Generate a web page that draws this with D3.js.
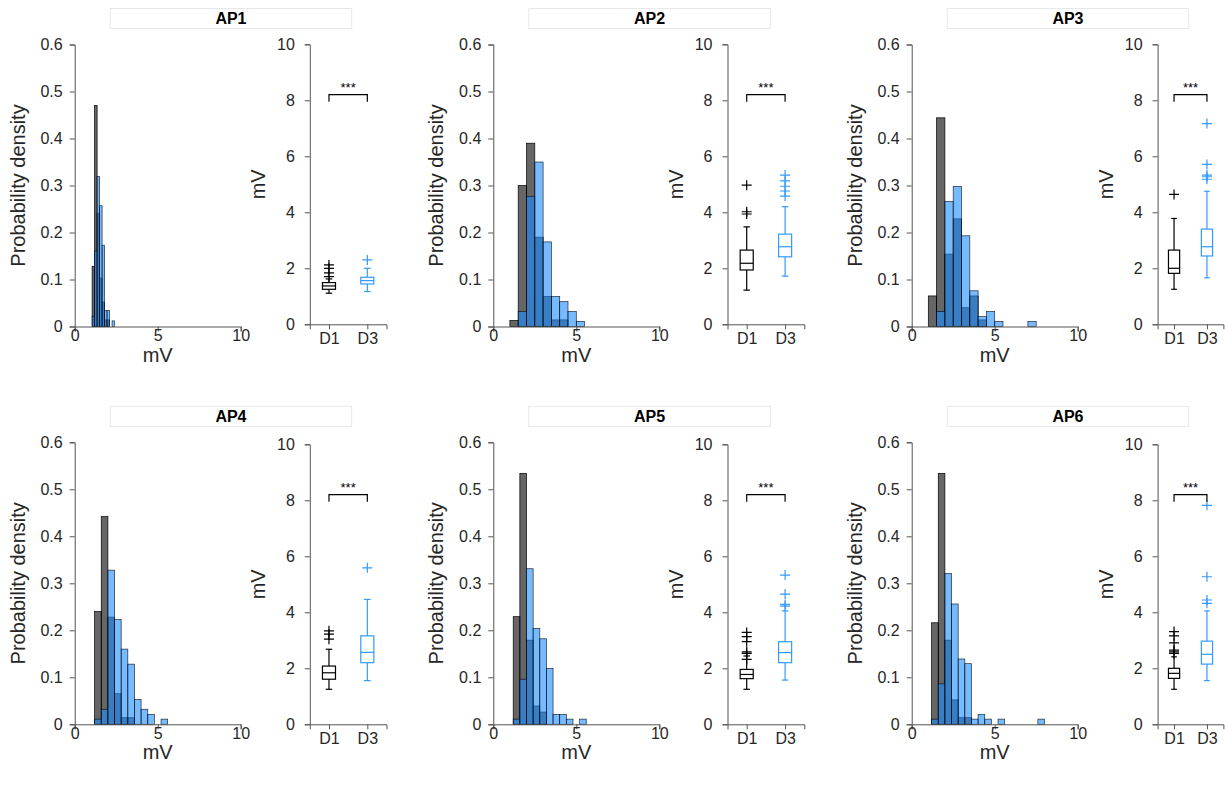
<!DOCTYPE html>
<html>
<head>
<meta charset="utf-8">
<script src="https://cdn.jsdelivr.net/npm/d3@7"></script>
<style>
  body { margin: 0; background: #fff; }
  svg { display: block; font-family: "Liberation Sans", Arial, sans-serif; }
</style>
</head>
<body>
<script>
// ---- data ----
const panels   = ['AP1', 'AP2', 'AP3', 'AP4', 'AP5', 'AP6'];
const groups   = ['D1', 'D3'];
const sigLabel = ['***', '***', '***', '***', '***', '***'];

// histogram bins (mV): first edge and width, per panel
const binStart = [1.05, 1.0, 1.0, 1.2, 1.2, 1.2];
const binWidth = [0.15, 0.5, 0.5, 0.4, 0.4, 0.4];

// bar heights (probability), one per bin starting at binStart
const histD1 = [
  [0.128, 0.47, 0.241, 0.103, 0.052, 0.014, 0.014],
  [0.013, 0.30, 0.39, 0.19, 0.064, 0.014, 0.014],
  [0.065, 0.444, 0.154, 0.229, 0.040, 0.065, 0.014],
  [0.24, 0.442, 0.228, 0.065, 0.014, 0.014],
  [0.229, 0.534, 0.179, 0.039, 0.026],
  [0.216, 0.534, 0.179, 0.052, 0.014, 0.014]
];
const histD3 = [
  [0.021, 0.161, 0.319, 0.257, 0.173, 0.034, 0.034, 0, 0.012],
  [0, 0.032, 0.277, 0.35, 0.18, 0.064, 0.053, 0.032, 0.011],
  [0, 0.032, 0.266, 0.298, 0.193, 0.076, 0.021, 0.032, 0.011, 0, 0, 0, 0.011],
  [0.011, 0.032, 0.328, 0.223, 0.16, 0.128, 0.053, 0.032, 0.021, 0, 0.011],
  [0.011, 0.096, 0.331, 0.204, 0.182, 0.119, 0.021, 0.021, 0.011, 0, 0.011],
  [0.011, 0.086, 0.321, 0.256, 0.139, 0.129, 0.011, 0.021, 0.011, 0, 0.011, 0, 0, 0, 0, 0, 0.011]
];

// box stats: [lower whisker, q1, median, q3, upper whisker]
const boxD1 = [
  [1.11, 1.25, 1.37, 1.49, 1.62],
  [1.22, 1.94, 2.18, 2.65, 3.48],
  [1.25, 1.82, 2.0, 2.65, 3.78],
  [1.25, 1.61, 1.84, 2.08, 2.68],
  [1.25, 1.63, 1.78, 1.96, 2.44],
  [1.25, 1.64, 1.82, 2.0, 2.41]
];
const boxD3 = [
  [1.17, 1.44, 1.56, 1.68, 2.0],
  [1.72, 2.41, 2.77, 3.22, 4.2],
  [1.66, 2.44, 2.77, 3.40, 4.75],
  [1.56, 2.2, 2.57, 3.16, 4.46],
  [1.58, 2.2, 2.56, 2.95, 4.05],
  [1.56, 2.15, 2.5, 2.97, 4.05]
];
const outD1 = [
  [1.70, 1.84, 2.0, 2.12],
  [3.94, 4.02, 4.97],
  [4.64],
  [3.04, 3.22, 3.34],
  [2.32, 2.53, 2.59, 2.95, 3.13, 3.28],
  [2.53, 2.59, 2.65, 2.91, 3.16, 3.31]
];
const outD3 = [
  [2.3],
  [4.58, 4.76, 4.93, 5.12, 5.33],
  [5.18, 5.27, 5.33, 5.71, 7.17],
  [5.59],
  [4.22, 4.28, 4.65, 5.33],
  [4.32, 4.44, 5.27, 7.82]
];

const histTicksX = [0, 5, 10];
const histTicksY = [0, 0.1, 0.2, 0.3, 0.4, 0.5, 0.6];
const boxTicksY  = [0, 2, 4, 6, 8, 10];

// ---- layout ----
const W = 1225, H = 788;
const colHistX = [74.7, 493.3, 911.7];
const colBoxX  = [[309.8, 386.5], [727.5, 804.3], [1157.6, 1223.4]];
const rowHistY = [[326.5, 44.5], [724.3, 442.3]];
const rowBoxY  = [[324.3, 44.3], [724.3, 444.3]];
const histLen  = 166;

const textCol = '#262626';
const axisCol = '#555';
const d1Col = '#000000';
const d3Col = '#1a8cff';
const d3Line = '#3399ff';

const svg = d3.select('body').append('svg')
  .attr('width', W).attr('height', H);

function styleAxis(g) {
  g.select('.domain').attr('stroke', axisCol).attr('stroke-width', 1);
  g.selectAll('.tick line').attr('stroke', axisCol).attr('stroke-width', 1);
  g.selectAll('.tick text').attr('fill', textCol).style('font-size', '16px')
    .style('font-family', '"Liberation Sans", Arial, sans-serif');
}

function drawPanel(p) {
  const col = p % 3, row = Math.floor(p / 3);
  const x0 = colHistX[col];

  // HISTOGRAMA
  const x = d3.scaleLinear().domain([0, 10]).range([x0, x0 + histLen]);
  const y = d3.scaleLinear().domain([0, 0.6]).range(rowHistY[row]);
  const g = svg.append('g');

  const bins = (arr) => arr.map((v, i) => ({
    lo: binStart[p] + i * binWidth[p],
    hi: binStart[p] + (i + 1) * binWidth[p],
    v
  })).filter(d => d.v > 0);

  g.selectAll('rect.d1').data(bins(histD1[p])).enter().append('rect')
    .attr('class', 'd1')
    .attr('x', d => x(d.lo)).attr('width', d => x(d.hi) - x(d.lo))
    .attr('y', d => y(d.v)).attr('height', d => y(0) - y(d.v))
    .attr('fill', d1Col).attr('fill-opacity', 0.6)
    .attr('stroke', '#000').attr('stroke-width', 0.7);

  g.selectAll('rect.d3').data(bins(histD3[p])).enter().append('rect')
    .attr('class', 'd3')
    .attr('x', d => x(d.lo)).attr('width', d => x(d.hi) - x(d.lo))
    .attr('y', d => y(d.v)).attr('height', d => y(0) - y(d.v))
    .attr('fill', d3Col).attr('fill-opacity', 0.6)
    .attr('stroke', '#000').attr('stroke-width', 0.7).attr('stroke-opacity', 0.8);

  const xa = g.append('g').attr('transform', `translate(0,${y(0)})`)
    .call(d3.axisBottom(x).tickValues(histTicksX).tickSize(5).tickPadding(-2).tickFormat(d3.format('d')));
  styleAxis(xa);
  const ya = g.append('g').attr('transform', `translate(${x0},0)`)
    .call(d3.axisLeft(y).tickValues(histTicksY).tickSize(5).tickPadding(7)
      .tickFormat(d => d === 0 ? '0' : d3.format('.1f')(d)));
  styleAxis(ya);

  g.append('text').attr('x', x0 + histLen / 2).attr('y', y(0) + 35)
    .attr('text-anchor', 'middle').attr('fill', textCol).style('font-size', '20px').text('mV');
  g.append('text')
    .attr('transform', `translate(${x0 - 57},${(y(0) + y(0.6)) / 2}) rotate(-90)`)
    .attr('text-anchor', 'middle').attr('dy', '0.35em')
    .attr('fill', textCol).style('font-size', '20px').text('Probability density');

  // titulo
  const ty = y(0.6) - 26;
  g.append('rect').attr('x', x0 + 35.5).attr('y', ty - 10).attr('width', 241.5).attr('height', 20)
    .attr('fill', 'none').attr('stroke', '#e8e8e8').attr('stroke-width', 1);
  g.append('text').attr('x', x0 + 35.5 + 241.5 / 2).attr('y', ty).attr('dy', '0.35em')
    .attr('text-anchor', 'middle').attr('font-weight', 'bold').attr('fill', '#000')
    .style('font-size', '16px').text(panels[p]);

  // BOXPLOT
  const bx = d3.scaleLinear().domain([0.5, 2.5]).range(colBoxX[col]);
  const by = d3.scaleLinear().domain([0, 10]).range(rowBoxY[row]);
  const bg = svg.append('g');
  const step = bx(2) - bx(1);
  const bw = step * 0.34;

  [boxD1[p], boxD3[p]].forEach((s, k) => {
    const cx = bx(k + 1);
    const c = k === 0 ? d1Col : d3Line;
    const gg = bg.append('g').attr('stroke', c).attr('stroke-width', 1.2).attr('fill', 'none');
    gg.append('line').attr('x1', cx).attr('x2', cx).attr('y1', by(s[0])).attr('y2', by(s[1]));
    gg.append('line').attr('x1', cx).attr('x2', cx).attr('y1', by(s[3])).attr('y2', by(s[4]));
    gg.append('line').attr('x1', cx - bw / 4).attr('x2', cx + bw / 4).attr('y1', by(s[0])).attr('y2', by(s[0]));
    gg.append('line').attr('x1', cx - bw / 4).attr('x2', cx + bw / 4).attr('y1', by(s[4])).attr('y2', by(s[4]));
    gg.append('rect').attr('x', cx - bw / 2).attr('width', bw)
      .attr('y', by(s[3])).attr('height', by(s[1]) - by(s[3]));
    gg.append('line').attr('x1', cx - bw / 2).attr('x2', cx + bw / 2).attr('y1', by(s[2])).attr('y2', by(s[2]));
    const outs = k === 0 ? outD1[p] : outD3[p];
    gg.selectAll('path.out').data(outs).enter().append('path')
      .attr('class', 'out')
      .attr('d', v => `M${cx - 5},${by(v)}H${cx + 5}M${cx},${by(v) - 5}V${by(v) + 5}`);
  });

  // colchete de significancia
  const sy = by(8.2), sy2 = by(7.95);
  bg.append('path')
    .attr('d', `M${bx(1)},${sy2}V${sy}H${bx(2)}V${sy2}`)
    .attr('fill', 'none').attr('stroke', '#000').attr('stroke-width', 1.2);
  bg.append('text').attr('x', (bx(1) + bx(2)) / 2).attr('y', sy - 2.5)
    .attr('text-anchor', 'middle').attr('fill', '#000').style('font-size', '13px').text(sigLabel[p]);

  const bxa = bg.append('g').attr('transform', `translate(0,${by(0)})`)
    .call(d3.axisBottom(bx).tickValues([1, 2]).tickSize(5).tickPadding(3)
      .tickFormat((d, i) => groups[i]));
  styleAxis(bxa);
  const bya = bg.append('g').attr('transform', `translate(${colBoxX[col][0]},0)`)
    .call(d3.axisLeft(by).tickValues(boxTicksY).tickSize(5).tickPadding(10));
  styleAxis(bya);

  bg.append('text')
    .attr('transform', `translate(${colBoxX[col][0] - 52},${(by(0) + by(10)) / 2}) rotate(-90)`)
    .attr('text-anchor', 'middle').attr('dy', '0.35em')
    .attr('fill', textCol).style('font-size', '20px').text('mV');
}

panels.forEach((_, p) => drawPanel(p));
</script>
</body>
</html>
